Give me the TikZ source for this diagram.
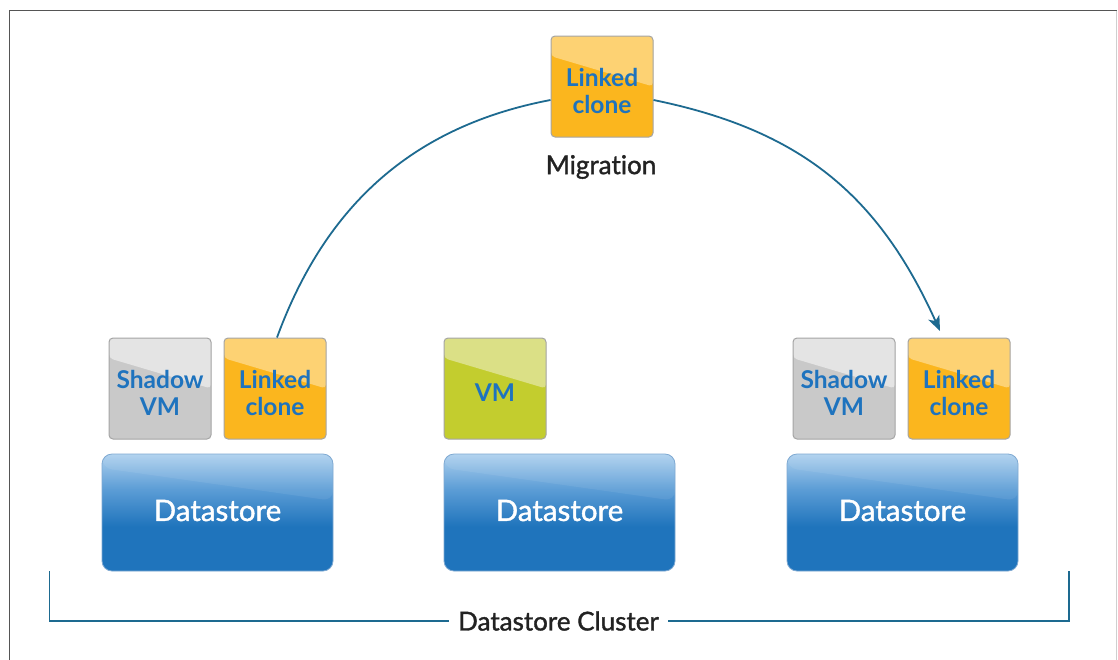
\documentclass[tikz,border=0pt]{standalone}
\usepackage{fontspec}
\setmainfont{Lato}[Ligatures=NoCommon]
\newfontfamily\medfont{Lato}[FakeBold=1.3,Ligatures=NoCommon]
\usetikzlibrary{arrows.meta,calc}
\definecolor{framecol}{HTML}{555555}
\definecolor{framelight}{HTML}{CFCFCF}
\definecolor{txtblue}{HTML}{1E73BE}
\definecolor{boxline}{HTML}{A5A5A5}
\definecolor{grayb}{HTML}{C9C9C9}
\definecolor{grayh}{HTML}{E4E4E4}
\definecolor{orb}{HTML}{FBB61E}
\definecolor{orh}{HTML}{FDD273}
\definecolor{grb}{HTML}{C3CD2E}
\definecolor{grh}{HTML}{DBE086}
\definecolor{dsbot}{HTML}{1F74BC}
\definecolor{dsmid}{HTML}{5C9DD6}
\definecolor{dstop}{HTML}{ADD0EE}
\definecolor{dsline}{HTML}{7FA9D2}
\definecolor{arccol}{HTML}{1D6A90}
\definecolor{labcol}{HTML}{222222}
\pgfdeclareverticalshading{dsshade}{100bp}{color(0bp)=(dsbot); color(25bp)=(dsbot); color(44bp)=(dsbot); color(60bp)=(dsmid); color(75bp)=(dstop); color(100bp)=(dstop)}
\newcommand{\twoline}[2]{\raisebox{-8pt}[\height][\depth]{\begin{tabular}{@{}c@{}}#1\\#2\end{tabular}}}
\begin{document}
\begin{tikzpicture}[x=1pt,y=-1pt,
  box/.style={minimum width=102pt, minimum height=101pt, inner sep=0pt,
    rounded corners=4pt, draw=boxline, line width=1pt, align=center,
    text=txtblue, font=\fontsize{24.5}{26.5}\selectfont\bfseries},
  gloss/.style={path picture={\fill[#1]
    (path picture bounding box.north west) -- (path picture bounding box.north east)
    -- ($(path picture bounding box.north east)!0.5!(path picture bounding box.south east)$)
    -- ($(path picture bounding box.north west)!0.2!(path picture bounding box.south west)$) -- cycle;}},
  dstore/.style={minimum width=231pt, minimum height=117pt, inner sep=0pt,
    rounded corners=10pt, draw=dsline, line width=0.8pt, shading=dsshade,
    text=white, font=\fontsize{29.5}{32}\medfont,
    path picture={\fill[white,opacity=0.07]
    (path picture bounding box.north west) -- (path picture bounding box.north east)
    -- ($(path picture bounding box.north east)!0.4!(path picture bounding box.south east)$)
    -- ($(path picture bounding box.north west)!0.12!(path picture bounding box.south west)$) -- cycle;}},
  lab/.style={text=labcol, font=\fontsize{26}{30}\medfont},
  conn/.style={draw=arccol, line width=1.8pt},
]
\useasboundingbox (0,0) rectangle (1118,659);
\fill[white] (0,0) rectangle (1118,659);
% frame
\draw[framecol, line width=1.5pt] (9.5,670) -- (9.5,10.5) -- (1117,10.5);
\draw[framelight, line width=1pt] (1116.5,10.5) -- (1116.5,670);
% datastores
\node[dstore] (ds1) at (217.5,512.5) {\raisebox{2pt}[\height][\depth]{Datastore}};
\node[dstore] (ds2) at (559.5,512.5) {\raisebox{2pt}[\height][\depth]{Datastore}};
\node[dstore] (ds3) at (902.5,512.5) {\raisebox{2pt}[\height][\depth]{Datastore}};
% small boxes
\node[box, fill=grayb, gloss=grayh] (svL) at (160,388.5) {\twoline{Shadow}{VM}};
\node[box, fill=orb, gloss=orh] (lcL) at (275,388.5) {\twoline{Linked}{clone}};
\node[box, fill=grb, gloss=grh] (vm) at (495,388.5) {\raisebox{-4pt}[\height][\depth]{VM}};
\node[box, fill=grayb, gloss=grayh] (svR) at (844,388.5) {\twoline{Shadow}{VM}};
\node[box, fill=orb, gloss=orh] (lcR) at (959,388.5) {\twoline{Linked}{clone}};
\node[box, fill=orb, gloss=orh] (lcT) at (602,86.5) {\twoline{Linked}{clone}};
\node[lab] (mig) at (601,167) {Migration};
% migration arc
\coordinate (tip) at (940,331);
\draw[conn] ($(lcL.north)+(2,0)$) .. controls (326,204) and (414,126) .. ($(lcT.west)+(0,13.5)$);
\draw[conn, -{Stealth[length=15pt,width=12pt,inset=4pt]}] ($(lcT.east)+(0,13.5)$) .. controls (800,130) and (878,194) .. (tip);
% cluster bracket
\node[lab, inner sep=9pt] (cl) at (558.5,621) {Datastore Cluster};
\coordinate (bl) at (49.5,571);
\coordinate (br) at (1069,571);
\draw[conn] (bl) |- (cl.west);
\draw[conn] (cl.east) -| (br);
\end{tikzpicture}
\end{document}
